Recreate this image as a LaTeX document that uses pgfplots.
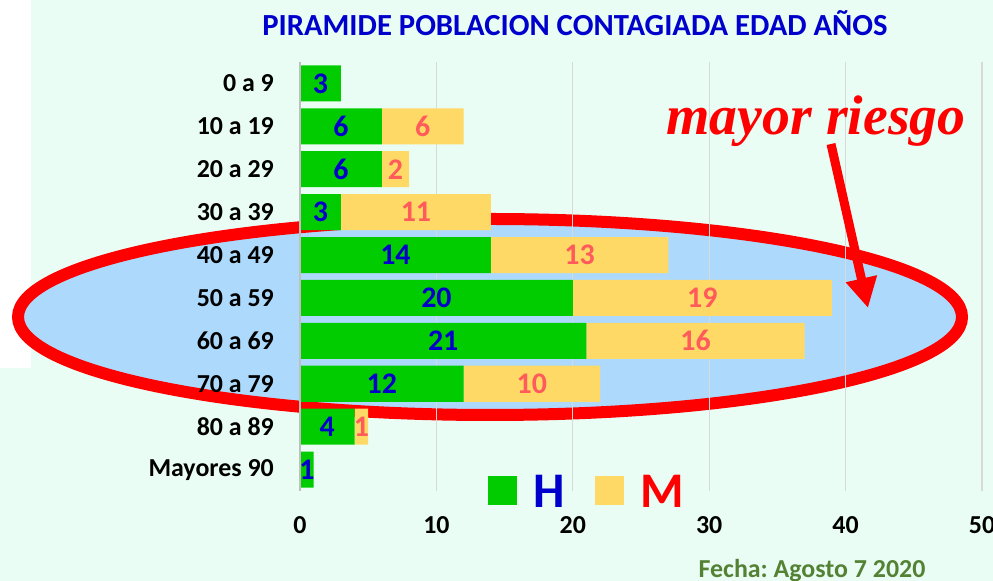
\documentclass[border=0pt]{standalone}
\usepackage{pgfplots}
\usepackage{pgfplotstable}
\pgfplotsset{compat=1.18}
\usepackage{fontspec}
\setmainfont{Carlito}
\newfontfamily\riskfont{Liberation Serif}
\usetikzlibrary{arrows.meta}
\frenchspacing
\definecolor{bg}{HTML}{EAFDF5}
\definecolor{hgreen}{HTML}{00CC00}
\definecolor{myellow}{HTML}{FFD966}
\definecolor{hblue}{HTML}{0000CC}
\definecolor{mred}{HTML}{FF5B5B}
\definecolor{ellfill}{HTML}{ADDAFC}
\definecolor{fecha}{HTML}{548235}
\definecolor{gridc}{HTML}{D9D9D9}
\definecolor{axisc}{HTML}{BFBFBF}

\pgfplotstableread{
idx H M
0 3 0
1 6 6
2 6 2
3 3 11
4 14 13
5 20 19
6 21 16
7 12 10
8 4 1
9 1 0
}\data

\pgfplotstableread{
x y lbl
1.5 0 3
3 1 6
3 2 6
1.5 3 3
7 4 14
10 5 20
10.5 6 21
6 7 12
2 8 4
0.5 9 1
}\hlab

\pgfplotstableread{
x y lbl
9 1 6
7 2 2
8.5 3 11
20.5 4 13
29.5 5 19
29 6 16
17 7 10
4.5 8 1
}\mlab

\pgfplotsset{
  sqlegend/.style={legend image code/.code={\fill[##1,draw=none] (0bp,-12bp) rectangle (29bp,17bp);}},
  base/.style={
    at={(300bp,90bp)}, anchor=south west,
    scale only axis, width=682bp, height=429bp,
    xmin=0, xmax=50, ymin=-0.5, ymax=9.5, y dir=reverse,
  }
}

\begin{document}
\begin{tikzpicture}[x=1bp,y=1bp]
\fill[bg] (0,0) rectangle (993,581);
\fill[white] (0,213) rectangle (31,581);
\useasboundingbox (0,0) rectangle (993,581);
\draw[red, line width=12bp, fill=ellfill] (490,264) ellipse [x radius=472, y radius=98];

\begin{axis}[base,
  xbar stacked, bar width=36bp,
  axis line style={draw=none},
  xmajorgrids, grid style={gridc, line width=1.3bp},
  xtick={0,10,...,50}, major tick length=0pt,
  ytick={0,...,9},
  yticklabels={0 a 9,10 a 19,20 a 29,30 a 39,40 a 49,50 a 59,60 a 69,70 a 79,80 a 89,Mayores 90},
  /pgf/number format/assume math mode=true,
  xticklabel style={font=\fontsize{26}{26}\selectfont\bfseries, inner sep=0pt, anchor=north, yshift=-25bp},
  yticklabel style={font=\fontsize{26}{26}\selectfont\bfseries, inner sep=0pt, anchor=east, xshift=-26bp},
  clip=false,
  legend style={at={(axis description cs:0.2757,-0.043)}, anchor=south west, draw=none, fill=none,
    inner sep=0pt, outer sep=0pt, legend columns=-1,
    font=\fontsize{50}{50}\selectfont\bfseries,
    nodes={inner sep=0pt},
    /tikz/every odd column/.style={column sep=16bp},
    /tikz/every even column/.style={column sep=31bp}},
]
\draw[axisc, line width=1.5bp] (axis cs:0,-0.5) -- (axis cs:0,9.5);
\addplot[fill=hgreen, draw=none, sqlegend] table[x=H, y=idx] {\data};
\addlegendentry{\textcolor{hblue}{H}}
\addplot[fill=myellow, draw=none, sqlegend] table[x=M, y=idx] {\data};
\addlegendentry{\textcolor{red}{M}}
\end{axis}

\begin{axis}[base, hide axis, clip=false]
\addplot[draw=none, mark=none, nodes near coords, point meta=explicit symbolic,
  every node near coord/.append style={anchor=center, inner sep=0pt, text=hblue, font=\fontsize{30}{30}\selectfont\bfseries}]
  table[x=x, y=y, meta=lbl] {\hlab};
\addplot[draw=none, mark=none, nodes near coords, point meta=explicit symbolic,
  every node near coord/.append style={anchor=center, inner sep=0pt, text=mred, font=\fontsize{30}{30}\selectfont\bfseries}]
  table[x=x, y=y, meta=lbl] {\mlab};
\end{axis}

\draw[red, line width=9bp, -{Triangle[length=30bp,width=30bp]}] (831,437) -- (868,273);
\node[anchor=base, text=red, font=\riskfont\fontsize{56}{56}\selectfont\bfseries\itshape, inner sep=0pt] at (816,446) {mayor riesgo};
\node[anchor=base, text=hblue, font=\fontsize{30.8}{30.8}\selectfont\bfseries, inner sep=0pt] at (575,545) {PIRAMIDE POBLACION CONTAGIADA EDAD AÑOS};
\node[anchor=base, text=fecha, font=\fontsize{26}{26}\selectfont\bfseries, inner sep=0pt] at (812,3) {Fecha: Agosto 7 2020};
\end{tikzpicture}
\end{document}
